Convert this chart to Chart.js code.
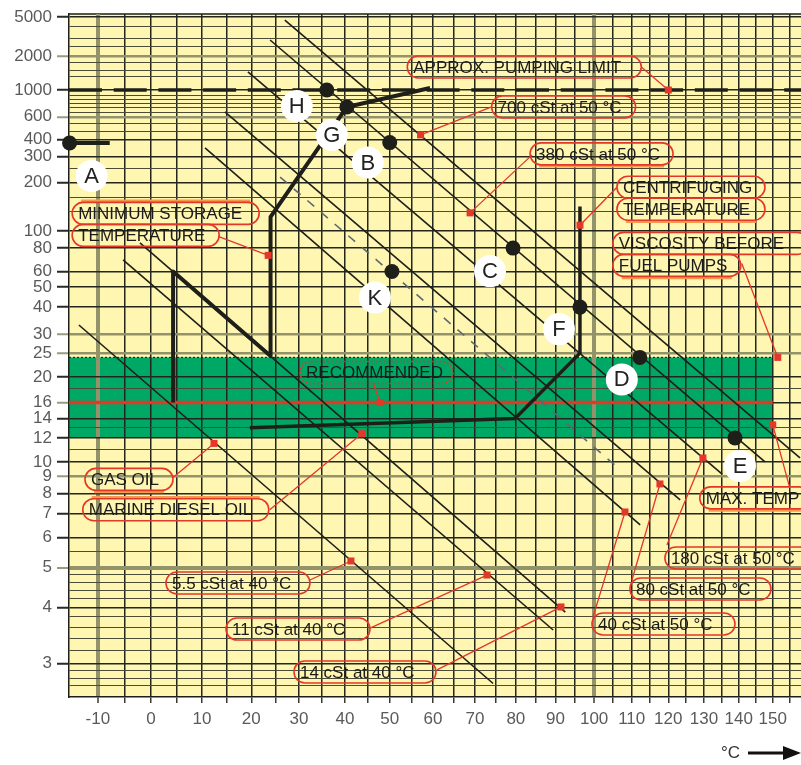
<!DOCTYPE html>
<html>
<head>
<meta charset="utf-8">
<script src="https://cdn.jsdelivr.net/npm/chart.js@4.4.1/dist/chart.umd.min.js"></script>
<style>
  html, body { margin: 0; padding: 0; background: #fff; }
  canvas { display: block; }
</style>
</head>
<body>
<canvas id="viscChart" width="801" height="765"></canvas>
<script>
// temperature axis (°C), spaced as log of absolute temperature
const tempLabels = [-10, 0, 10, 20, 30, 40, 50, 60, 70, 80, 90, 100, 110, 120, 130, 140, 150];
const tempGrid = [-10, -5, 0, 5, 10, 15, 20, 25, 30, 35, 40, 45, 50, 55, 60, 65, 70, 75,
  80, 85, 90, 95, 100, 105, 110, 115, 120, 125, 130, 135, 140, 145, 150, 155];
const tempRange = [-15.3, 158.5];
const grayTemps = [-10, 100];

// viscosity axis (cSt), Walther scale
const viscLabels = [5000, 2000, 1000, 600, 400, 300, 200, 100, 80, 60, 50, 40, 30, 25, 20,
  16, 14, 12, 10, 9, 8, 7, 6, 5, 4, 3];
const viscMinor = [4000, 3000, 2500, 1750, 1500, 1300, 900, 830, 770, 710, 650, 530, 460,
  250, 160, 130, 18, 13, 11, 5.5, 4.8, 4.6, 4.4, 4.2, 3.8, 3.6, 3.4, 3.2, 2.9, 2.8, 2.7];
const viscRange = [2.565, 5373];
const grayVisc = [2000, 600, 30, 25, 9, 5];

// recommended injection viscosity band
const bandVisc = [12, 24];
const bandMaxTemp = 150;
const bandMid = 16;
const pumpingLimit = 1000;

// fuel lines, [°C, cSt] at each end
const line700 = [[27, 4630], [158.2, 10.3]];
const line380 = [[23.9, 2900], [147.7, 10.0]];
const line180 = [[19.3, 1443], [135.2, 9.16]];
const line80 = [[14.6, 656], [123.3, 7.65]];
const line40 = [[10.6, 347], [112.3, 6.49]];
const lineK = [[26, 217], [106.4, 9.57]];
const line14 = [[-2.1, 85.5], [92.5, 3.9]];
const line11 = [[-5.3, 69], [89.4, 3.55]];
const line55 = [[-13.5, 33.1], [74.4, 2.73]];

// heating paths
const pathStorage = [[4.3, 16], [4.3, 60], [24, 24.3], [24, 121], [40.4, 720], [59.3, 1040]];
const pathDiesel = [[19.7, 13], [79.8, 14], [96.3, 25], [96.3, 140]];
const pathA = [[-15.2, 377], [-7.8, 377]];

// lettered points
const markerNames = ['A', 'H', 'G', 'B', 'C', 'K', 'F', 'D', 'E'];
const markerTemps = [-15.2, 36, 40.4, 50, 79.3, 50.5, 96.3, 112.2, 138.9];
const markerVisc = [377, 1000, 720, 380, 80, 60, 40, 24, 12];
const markerOffsets = [[22, 33], [-30, 16], [-15, 28], [-22, 20], [-23, 23], [-17, 26], [-21, 22], [-18, 22], [5, 28]];

// callouts
const noteTexts = [
  ['APPROX. PUMPING LIMIT'],
  ['700 cSt at 50 °C'],
  ['380 cSt at 50 °C'],
  ['CENTRIFUGING', 'TEMPERATURE'],
  ['VISCOSITY BEFORE', 'FUEL PUMPS'],
  ['MINIMUM STORAGE', 'TEMPERATURE'],
  ['RECOMMENDED'],
  ['GAS OIL'],
  ['MARINE DIESEL OIL'],
  ['MAX. TEMP'],
  ['180 cSt at 50 °C'],
  ['80 cSt at 50 °C'],
  ['40 cSt at 50 °C'],
  ['5.5 cSt at 40 °C'],
  ['11 cSt at 40 °C'],
  ['14 cSt at 40 °C']
];
const noteTemps = [120, 57.1, 68.8, 96.3, 151.5, 23.5, 47.8, 12.4, 43.7, 150, 129.7, 117.7, 108.2, 41.3, 72.9, 91.4];
const noteVisc = [1000, 434, 128, 108, 24, 73, 16, 11.5, 12.4, 13.3, 10.3, 8.54, 7.06, 5.2, 4.79, 4.01];
const noteLayout = [
  { bx: -261, by: -23, w: [234], from: [-27, -23] },
  { bx: 71, by: -28, w: [144], from: [71, -28] },
  { bx: 60, by: -59, w: [143], from: [62, -58], shade: 'below' },
  { bx: 37, by: -38, w: [148, 148], from: [37, -38], shade: 'below' },
  { bx: -165, by: -114, w: [195, 128], from: [-36, -94], shade: 'below' },
  { bx: -196, by: -42, w: [187, 147], from: [-50, -19], shade: 'above' },
  { bx: -80, by: -30, w: [153], from: [-7, -20], dotted: true },
  { bx: -129, by: 36, w: [88], from: [-41, 34], shade: 'below' },
  { bx: -279, by: 76, w: [186], from: [-92, 76], shade: 'above' },
  { bx: -73, by: 73, w: [110], from: [17, 63], shade: 'below' },
  { bx: -38, by: 100, w: [145], from: [-36, 87] },
  { bx: -30, by: 105, w: [141], from: [-28, 96] },
  { bx: -33, by: 112, w: [143], from: [-32, 105] },
  { bx: -185, by: 22, w: [144], from: [-41, 19] },
  { bx: -261, by: 54, w: [144], from: [-117, 53] },
  { bx: -267, by: 65, w: [142], from: [-124, 63] }
];

const tx = t => Math.log10(t + 273);
const wv = v => Math.log10(Math.log10(v + 0.8));
const pt = ([t, v]) => ({ x: tx(t), y: wv(v) });

const yGridVals = [...viscLabels, ...viscMinor].sort((a, b) => a - b);
const RED = '#e3372a';
const INK = '#1e1f18';
const FONT = '"Liberation Sans", Arial, sans-serif';

function lineSet(points, width, color, extra) {
  return Object.assign({
    data: points.map(pt), borderColor: color, borderWidth: width,
    pointRadius: 0, fill: false, tension: 0
  }, extra || {});
}

function pill(ctx, x, y, w, h) {
  const r = h / 2;
  ctx.beginPath();
  ctx.moveTo(x + r, y);
  ctx.lineTo(x + w - r, y);
  ctx.arc(x + w - r, y + r, r, -Math.PI / 2, Math.PI / 2);
  ctx.lineTo(x + r, y + h);
  ctx.arc(x + r, y + r, r, Math.PI / 2, Math.PI * 1.5);
  ctx.closePath();
}

const backdrop = {
  id: 'backdrop',
  beforeDraw(chart) {
    const { ctx, chartArea: a, scales: { x, y } } = chart;
    ctx.save();
    ctx.fillStyle = '#fff';
    ctx.fillRect(0, 0, chart.width, chart.height);
    ctx.fillStyle = '#fff6b2';
    ctx.fillRect(a.left, a.top, a.right - a.left, a.bottom - a.top);
    const top = y.getPixelForValue(wv(bandVisc[1]));
    const bottom = y.getPixelForValue(wv(bandVisc[0]));
    const right = x.getPixelForValue(tx(bandMaxTemp));
    ctx.fillStyle = '#00a866';
    ctx.fillRect(a.left, top, right - a.left, bottom - top);
    ctx.strokeStyle = '#2a2a22';
    ctx.lineWidth = 1.2;
    ctx.setLineDash([2, 2]);
    ctx.beginPath();
    ctx.moveTo(a.left, top); ctx.lineTo(right, top);
    ctx.stroke();
    ctx.setLineDash([]);
    ctx.lineWidth = 1.5;
    ctx.strokeStyle = INK;
    ctx.beginPath();
    ctx.moveTo(a.left, a.top); ctx.lineTo(a.right, a.top);
    ctx.stroke();
    ctx.restore();
  }
};

const notes = {
  id: 'notes',
  afterDatasetsDraw(chart) {
    const { ctx, scales: { x, y } } = chart;
    ctx.save();
    ctx.font = '17px ' + FONT;
    ctx.textBaseline = 'middle';
    noteTexts.forEach((rows, i) => {
      const px = x.getPixelForValue(tx(noteTemps[i]));
      const py = y.getPixelForValue(wv(noteVisc[i]));
      const lay = noteLayout[i];
      ctx.setLineDash([]);
      ctx.strokeStyle = RED;
      ctx.lineWidth = 1.3;
      ctx.beginPath();
      ctx.moveTo(px + lay.from[0], py + lay.from[1]);
      ctx.lineTo(px, py);
      ctx.stroke();
      ctx.fillStyle = RED;
      ctx.fillRect(px - 3.5, py - 3.5, 7, 7);
      rows.forEach((text, r) => {
        const left = px + lay.bx;
        const cy = py + lay.by + r * 22;
        const w = lay.w[r];
        if (lay.shade && (lay.shade === 'above' ? r === 0 : r === rows.length - 1)) {
          const sy = lay.shade === 'above' ? cy - 12.5 : cy + 12.5;
          ctx.strokeStyle = '#f59a4a';
          ctx.lineWidth = 2.5;
          ctx.beginPath();
          ctx.moveTo(left + 9, sy); ctx.lineTo(left + w - 9, sy);
          ctx.stroke();
        }
        ctx.strokeStyle = RED;
        ctx.lineWidth = 1.6;
        ctx.setLineDash(lay.dotted ? [2, 2] : []);
        pill(ctx, left, cy - 11, w, 22);
        ctx.stroke();
        ctx.setLineDash([]);
        ctx.fillStyle = '#1b1b1b';
        ctx.fillText(text, left + 6, cy + 1);
      });
    });

    // lettered circles
    ctx.font = '22px ' + FONT;
    ctx.textAlign = 'center';
    markerNames.forEach((name, i) => {
      const cx = x.getPixelForValue(tx(markerTemps[i])) + markerOffsets[i][0];
      const cy = y.getPixelForValue(wv(markerVisc[i])) + markerOffsets[i][1];
      ctx.fillStyle = '#fff';
      ctx.beginPath();
      ctx.arc(cx, cy, 16, 0, Math.PI * 2);
      ctx.fill();
      ctx.fillStyle = '#222';
      ctx.fillText(name, cx, cy + 1);
    });
    ctx.restore();
  },
  afterDraw(chart) {
    const ctx = chart.ctx;
    ctx.save();
    ctx.font = '17px ' + FONT;
    ctx.fillStyle = '#333';
    ctx.textAlign = 'right';
    ctx.textBaseline = 'middle';
    ctx.fillText('°C', 740, 753);
    ctx.strokeStyle = '#111';
    ctx.lineWidth = 3;
    ctx.beginPath();
    ctx.moveTo(748, 753); ctx.lineTo(786, 753);
    ctx.stroke();
    ctx.fillStyle = '#111';
    ctx.beginPath();
    ctx.moveTo(783, 746); ctx.lineTo(801, 753); ctx.lineTo(783, 760);
    ctx.closePath();
    ctx.fill();
    ctx.restore();
  }
};

new Chart(document.getElementById('viscChart'), {
  type: 'line',
  data: {
    datasets: [
      {
        data: markerNames.map((n, i) => pt([markerTemps[i], markerVisc[i]])),
        showLine: false, pointRadius: 7.5, pointBorderWidth: 0,
        pointBackgroundColor: INK, clip: false
      },
      lineSet(pathA, 4, INK, { clip: false }),
      lineSet(pathStorage, 4, INK, { borderJoinStyle: 'round' }),
      lineSet(pathDiesel, 3.5, INK, { borderJoinStyle: 'round' }),
      lineSet(line700, 1.6, INK),
      lineSet(line380, 1.6, INK),
      lineSet(line180, 1.6, INK),
      lineSet(line80, 1.6, INK),
      lineSet(line40, 1.6, INK),
      lineSet(line14, 1.6, INK),
      lineSet(line11, 1.6, INK),
      lineSet(line55, 1.6, INK),
      lineSet(lineK, 1.6, '#5d6872', { borderDash: [9, 9] }),
      lineSet([[tempRange[0], pumpingLimit], [tempRange[1], pumpingLimit]], 3.5, INK,
        { borderDash: [33, 11.7], borderCapStyle: 'butt' }),
      lineSet([[tempRange[0], bandMid], [bandMaxTemp, bandMid]], 3.5, RED)
    ]
  },
  options: {
    responsive: false,
    devicePixelRatio: 1,
    animation: false,
    events: [],
    layout: { autoPadding: false, padding: { top: 14, left: 0, right: 0, bottom: 0 } },
    plugins: { legend: { display: false }, tooltip: { enabled: false } },
    scales: {
      x: {
        type: 'linear',
        bounds: 'data',
        min: tx(tempRange[0]),
        max: tx(tempRange[1]),
        afterBuildTicks: s => { s.ticks = tempGrid.map(t => ({ value: tx(t) })); },
        afterFit: s => { s.height = 68; s.paddingLeft = 0; s.paddingRight = 0; },
        ticks: {
          autoSkip: false, maxRotation: 0, padding: 6,
          color: '#5a5a5a', font: { family: FONT, size: 17 },
          callback: (val, i) => tempLabels.includes(tempGrid[i]) ? String(tempGrid[i]) : ''
        },
        grid: {
          tickLength: 6,
          color: c => grayTemps.includes(tempGrid[c.index]) ? '#93936b' : '#23261c',
          lineWidth: c => grayTemps.includes(tempGrid[c.index]) ? 4 : 1.5,
          tickColor: '#3a3a30', tickWidth: 1.5
        },
        border: { color: INK, width: 1.5 }
      },
      y: {
        type: 'linear',
        bounds: 'data',
        min: wv(viscRange[0]),
        max: wv(viscRange[1]),
        afterBuildTicks: s => { s.ticks = yGridVals.map(v => ({ value: wv(v) })); },
        afterFit: s => { s.width = 69; s.paddingTop = 0; s.paddingBottom = 0; },
        ticks: {
          autoSkip: false, padding: 5,
          color: '#5a5a5a', font: { family: FONT, size: 17 },
          callback: (val, i) => viscLabels.includes(yGridVals[i]) ? String(yGridVals[i]) : ''
        },
        grid: {
          tickLength: 12,
          color: c => {
            const v = yGridVals[c.index];
            if (grayVisc.includes(v)) return '#93936b';
            return viscLabels.includes(v) ? '#23261c' : '#4a4c38';
          },
          lineWidth: c => {
            const v = yGridVals[c.index];
            if (v === 5) return 4;
            if (grayVisc.includes(v)) return 2.5;
            return viscLabels.includes(v) ? 1.5 : 1;
          },
          tickColor: c => {
            const v = yGridVals[c.index];
            if (!viscLabels.includes(v)) return 'rgba(0,0,0,0)';
            return grayVisc.includes(v) || v === 16 ? '#9a9a80' : '#2a2a22';
          },
          tickWidth: 2
        },
        border: { color: INK, width: 1.5 }
      }
    }
  },
  plugins: [backdrop, notes]
});
</script>
</body>
</html>
